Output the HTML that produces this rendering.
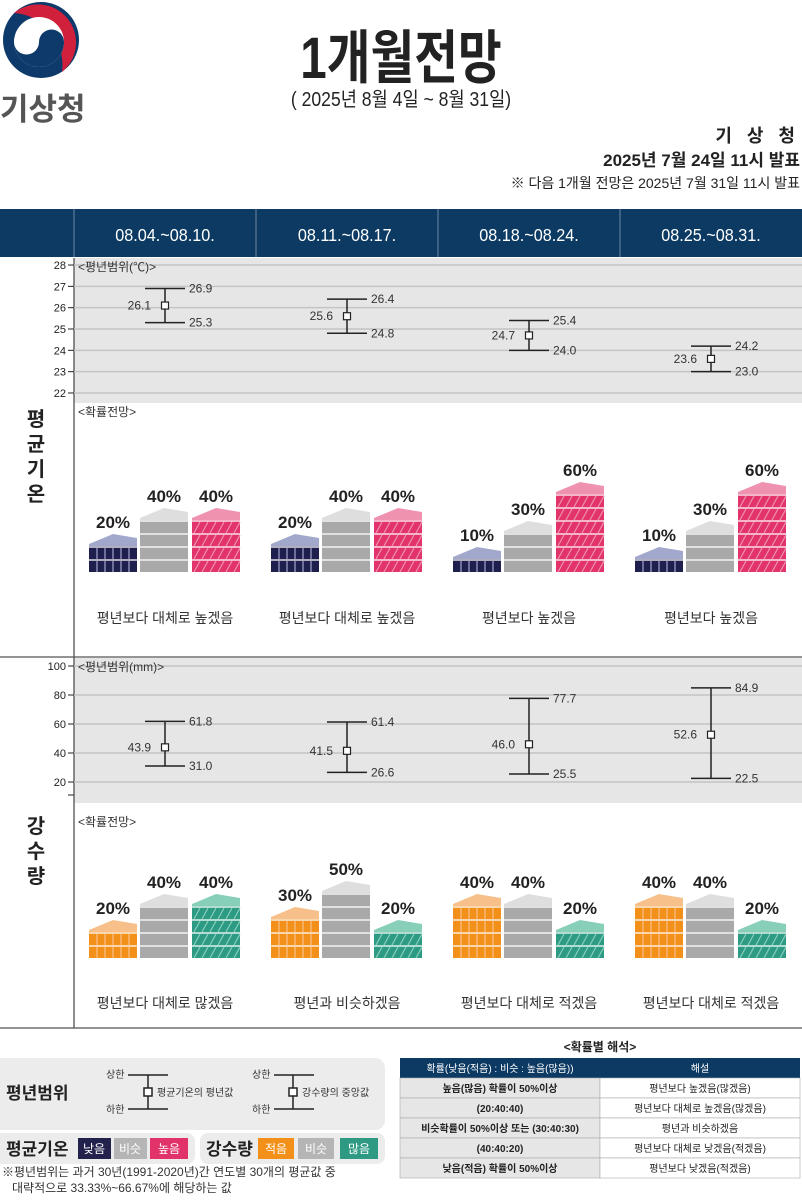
<!DOCTYPE html>
<html><head><meta charset="utf-8">
<style>
body{margin:0;background:#fff;font-family:"Liberation Sans","Noto Sans CJK KR",sans-serif;}
svg{display:block}
</style></head>
<body>
<svg id="s" width="802" height="1200" viewBox="0 0 802 1200" xmlns="http://www.w3.org/2000/svg" font-family="Liberation Sans, Noto Sans CJK KR, sans-serif">
  <g>
    <circle cx="41" cy="40" r="38" fill="#0d3a6a"/>
    <path d="M14 13 A38 38 0 0 1 62 72 A52 52 0 0 0 14 13Z" fill="#d0203b"/>
    <circle cx="39" cy="42" r="25" fill="#fff"/>
    <path d="M14 42 A25 25 0 0 0 64 42 Z" fill="#0d3a6a"/>
    <circle cx="26.5" cy="42" r="12.5" fill="#fff"/>
    <circle cx="51.5" cy="42" r="12.5" fill="#0d3a6a"/>
    <text x="0" y="120" font-size="31" font-weight="bold" fill="#555">기상청</text>
  </g>
  <text transform="translate(401,78) scale(0.82,1)" font-size="58" font-weight="bold" text-anchor="middle" fill="#222">1개월전망</text>
  <text transform="translate(401,106) scale(0.88,1)" font-size="20" text-anchor="middle" fill="#222">( 2025년 8월 4일 ~ 8월 31일)</text>
  <text x="800" y="142" font-size="18" font-weight="bold" text-anchor="end" fill="#222" letter-spacing="5">기 상 청</text>
  <text x="800" y="166" font-size="17" font-weight="bold" text-anchor="end" fill="#222">2025년 7월 24일 11시 발표</text>
  <text x="800" y="188" font-size="14" text-anchor="end" fill="#222">※ 다음 1개월 전망은 2025년 7월 31일 11시 발표</text>
  <rect x="0" y="209" width="802" height="48" fill="#0c3a63"/>
  <g id="hdr"></g>
  <rect x="74" y="258" width="728" height="145" fill="#e6e6e6"/>
  <rect x="74" y="658" width="728" height="145" fill="#e6e6e6"/>
  <line x1="74" y1="258" x2="74" y2="1028" stroke="#444" stroke-width="1.2"/>
  <line x1="0" y1="657" x2="802" y2="657" stroke="#555" stroke-width="1.2"/>
  <line x1="0" y1="1028" x2="802" y2="1028" stroke="#555" stroke-width="1.2"/>
  <g id="plot"></g>
  <g font-size="20" font-weight="bold" text-anchor="middle" fill="#222">
    <text x="36" y="426">평</text><text x="36" y="451">균</text><text x="36" y="476">기</text><text x="36" y="501">온</text>
  </g>
  <g font-size="20" font-weight="bold" text-anchor="middle" fill="#222">
    <text x="36" y="833">강</text><text x="36" y="858">수</text><text x="36" y="883">량</text>
  </g>
  <text x="78" y="271" font-size="12" fill="#333">&lt;평년범위(℃)&gt;</text>
  <text x="78" y="416" font-size="12" fill="#333">&lt;확률전망&gt;</text>
  <text x="78" y="671" font-size="12" fill="#333">&lt;평년범위(mm)&gt;</text>
  <text x="78" y="826" font-size="12" fill="#333">&lt;확률전망&gt;</text>

  <g>
    <rect x="-10" y="1058" width="395" height="72" rx="10" fill="#ececec"/>
    <text x="6" y="1099" font-size="17" font-weight="bold" fill="#222">평년범위</text>
    <g stroke="#222" stroke-width="1.5" fill="none">
      <line x1="128" y1="1075" x2="168" y2="1075"/><line x1="128" y1="1109" x2="168" y2="1109"/><line x1="148" y1="1075" x2="148" y2="1109"/>
      <rect x="144" y="1088" width="8" height="8" fill="#fff"/>
      <line x1="274" y1="1075" x2="314" y2="1075"/><line x1="274" y1="1109" x2="314" y2="1109"/><line x1="293" y1="1075" x2="293" y2="1109"/>
      <rect x="289" y="1088" width="8" height="8" fill="#fff"/>
    </g>
    <g font-size="10" fill="#333"><text x="106" y="1078">상한</text><text x="106" y="1113">하한</text><text x="157" y="1096">평균기온의 평년값</text>
    <text x="252" y="1078">상한</text><text x="252" y="1113">하한</text><text x="302" y="1096">강수량의 중앙값</text></g>
  </g>
  <g>
    <rect x="-10" y="1133" width="205" height="31" rx="8" fill="#ececec"/>
    <text x="6" y="1155" font-size="17" font-weight="bold" fill="#222">평균기온</text>
    <rect x="78" y="1138" width="33" height="21" fill="#22224d"/><text x="94" y="1153" font-size="12" fill="#fff" text-anchor="middle">낮음</text>
    <rect x="114" y="1138" width="33" height="21" fill="#b5b5b5"/><text x="130" y="1153" font-size="12" fill="#fff" text-anchor="middle">비슷</text>
    <rect x="150" y="1138" width="38" height="21" fill="#e1326a"/><text x="169" y="1153" font-size="12" fill="#fff" text-anchor="middle">높음</text>
  </g>
  <g>
    <rect x="200" y="1133" width="185" height="31" rx="8" fill="#ececec"/>
    <text x="206" y="1155" font-size="17" font-weight="bold" fill="#222">강수량</text>
    <rect x="258" y="1138" width="36" height="21" fill="#f39019"/><text x="276" y="1153" font-size="12" fill="#fff" text-anchor="middle">적음</text>
    <rect x="298" y="1138" width="36" height="21" fill="#b5b5b5"/><text x="316" y="1153" font-size="12" fill="#fff" text-anchor="middle">비슷</text>
    <rect x="340" y="1138" width="38" height="21" fill="#2e9a83"/><text x="359" y="1153" font-size="12" fill="#fff" text-anchor="middle">많음</text>
  </g>
  <text x="2" y="1176" font-size="12" fill="#333">※평년범위는 과거 30년(1991-2020년)간 연도별 30개의 평균값 중</text>
  <text x="12" y="1192" font-size="12" fill="#333">대략적으로 33.33%~66.67%에 해당하는 값</text>

  <text x="600" y="1051" font-size="12" font-weight="bold" text-anchor="middle" fill="#222">&lt;확률별 해석&gt;</text>
  <g id="tbl"></g>
</svg>
<script>
const NS="http://www.w3.org/2000/svg";
function mk(p,tag,at,txt){const e=document.createElementNS(NS,tag);for(const k in at)e.setAttribute(k,at[k]);if(txt!==undefined)e.textContent=txt;p.appendChild(e);return e;}
const periods=["08.04.~08.10.","08.11.~08.17.","08.18.~08.24.","08.25.~08.31."];
const tempMean=[26.1,25.6,24.7,23.6];
const tempUpper=[26.9,26.4,25.4,24.2];
const tempLower=[25.3,24.8,24.0,23.0];
const tempTicks=[22,23,24,25,26,27,28];
const tempProbLow=[20,20,10,10];
const tempProbNear=[40,40,30,30];
const tempProbHigh=[40,40,60,60];
const tempText=["평년보다 대체로 높겠음","평년보다 대체로 높겠음","평년보다 높겠음","평년보다 높겠음"];
const prMed=[43.9,41.5,46.0,52.6];
const prUpper=[61.8,61.4,77.7,84.9];
const prLower=[31.0,26.6,25.5,22.5];
const prTicks=[20,40,60,80,100];
const prProbLow=[20,30,40,40];
const prProbNear=[40,50,40,40];
const prProbHigh=[40,20,20,20];
const prText=["평년보다 대체로 많겠음","평년과 비슷하겠음","평년보다 대체로 적겠음","평년보다 대체로 적겠음"];

const colX=i=>74+182*i, colC=i=>165+182*i;
const hdr=document.getElementById('hdr'), plot=document.getElementById('plot');
periods.forEach((p,i)=>{
  const t=mk(hdr,'text',{transform:`translate(${colC(i)},241) scale(0.9,1)`,'font-size':18,fill:'#fff','text-anchor':'middle'},p);
  
  
  mk(hdr,'line',{x1:colX(i),y1:209,x2:colX(i),y2:257,stroke:'#6f87a3','stroke-width':1});
});
function rangeChart(ticks,yf,mean,up,lo,fmt,name){
  ticks.forEach(v=>{const y=yf(v);
    mk(plot,'line',{x1:74,y1:y,x2:802,y2:y,stroke:'#c4c4c4','stroke-width':1.5});
    mk(plot,'line',{x1:68,y1:y,x2:74,y2:y,stroke:'#222'});
    mk(plot,'text',{x:66,y:y+4,'font-size':11,'text-anchor':'end',fill:'#222'},v);});
  mean.forEach((m,i)=>{const c=colC(i),yu=yf(up[i]),yl=yf(lo[i]),ym=yf(m);
    const g=mk(plot,'g',{});
    
    
    mk(g,'line',{x1:c,y1:yu,x2:c,y2:yl,stroke:'#222','stroke-width':1.5});
    mk(g,'line',{x1:c-20,y1:yu,x2:c+20,y2:yu,stroke:'#222','stroke-width':1.5});
    mk(g,'line',{x1:c-20,y1:yl,x2:c+20,y2:yl,stroke:'#222','stroke-width':1.5});
    mk(g,'rect',{x:c-3.5,y:ym-3.5,width:7,height:7,fill:'#fff',stroke:'#222','stroke-width':1.2});
    mk(g,'text',{x:c+24,y:yu+4,'font-size':12,fill:'#333'},fmt(up[i]));
    mk(g,'text',{x:c+24,y:yl+4,'font-size':12,fill:'#333'},fmt(lo[i]));
    mk(g,'text',{x:c-14,y:ym+4,'font-size':12,fill:'#333','text-anchor':'end'},fmt(m));});
}
const fmt1=v=>v.toFixed(1);
rangeChart(tempTicks,v=>393-(v-22)*21.33,tempMean,tempUpper,tempLower,fmt1,'temp');
rangeChart(prTicks,v=>782-(v-20)*1.45,prMed,prUpper,prLower,fmt1,'precip');
mk(plot,'line',{x1:68,y1:795,x2:74,y2:795,stroke:'#222'});

function stack(x0,base,pct,front,top,name,pat){
  const n=pct/10,u=13,t=base-n*u-12,g=mk(plot,'g',{});
  
  
  mk(g,'rect',{x:x0,y:t+10,width:48,height:base-t-10,fill:front});
  for(let k=0;k<n;k++){const y=base-(k+1)*u;
    if(pat==='v'){for(let j=1;j<6;j++)mk(g,'line',{x1:x0+j*8,y1:y+2,x2:x0+j*8,y2:y+u,stroke:top,'stroke-width':1.2});}
    if(pat==='d'){for(let j=0;j<6;j++)mk(g,'line',{x1:x0+j*8+2,y1:y+u,x2:x0+j*8+8,y2:y+2,stroke:top,'stroke-width':1.2});}
    mk(g,'line',{x1:x0,y1:y+1,x2:x0+48,y2:y+1,stroke:'#fff','stroke-width':1.5,opacity:.85});}
  mk(g,'polygon',{points:`${x0},${t+10} ${x0+24},${t} ${x0+48},${t+4} ${x0+48},${t+12} ${x0},${t+12}`,fill:top});
  mk(g,'text',{x:x0+24,y:t-6,'font-size':17,'font-weight':'bold','text-anchor':'middle',fill:'#222'},pct+'%');
}
function probs(base,lo,nr,hi,cols,texts,ty,name){
  lo.forEach((v,i)=>{const x=colX(i)+15;
    stack(x,base,lo[i],cols[0],cols[1],name+'-low-'+(i+1),'v');
    stack(x+51,base,nr[i],'#a9a9a9','#dedede',name+'-near-'+(i+1),'');
    stack(x+103,base,hi[i],cols[2],cols[3],name+'-high-'+(i+1),'d');
    const t=mk(plot,'text',{x:colC(i),y:ty,'font-size':14,'text-anchor':'middle',fill:'#333'},texts[i]);
    
    });
}
probs(572,tempProbLow,tempProbNear,tempProbHigh,['#1e1f4f','#a2a8cb','#e2336b','#ef92b0'],tempText,623,'temp');
probs(958,prProbLow,prProbNear,prProbHigh,['#f39019','#f7c08a','#2d9b84','#88cfba'],prText,1008,'precip');

const tbl=document.getElementById('tbl');
const rowsA=["높음(많음) 확률이 50%이상","(20:40:40)","비슷확률이 50%이상 또는 (30:40:30)","(40:40:20)","낮음(적음) 확률이 50%이상"];
const rowsB=["평년보다 높겠음(많겠음)","평년보다 대체로 높겠음(많겠음)","평년과 비슷하겠음","평년보다 대체로 낮겠음(적겠음)","평년보다 낮겠음(적겠음)"];
mk(tbl,'rect',{x:400,y:1058,width:400,height:20,fill:'#0c3a63'});
mk(tbl,'text',{x:500,y:1072,'font-size':10,fill:'#fff','text-anchor':'middle'},"확률(낮음(적음) : 비슷 : 높음(많음))");
mk(tbl,'text',{x:700,y:1072,'font-size':10,fill:'#fff','text-anchor':'middle'},"해설");
rowsA.forEach((r,i)=>{const y=1078+i*20;
  mk(tbl,'rect',{x:400,y:y,width:200,height:20,fill:'#e6e6e6',stroke:'#aaa','stroke-width':.6});
  mk(tbl,'rect',{x:600,y:y,width:200,height:20,fill:'#fff',stroke:'#aaa','stroke-width':.6});
  mk(tbl,'text',{x:500,y:y+14,'font-size':10,'font-weight':'bold','text-anchor':'middle',fill:'#222'},r);
  mk(tbl,'text',{x:700,y:y+14,'font-size':10,'text-anchor':'middle',fill:'#222'},rowsB[i]);});
</script>
</body></html>
